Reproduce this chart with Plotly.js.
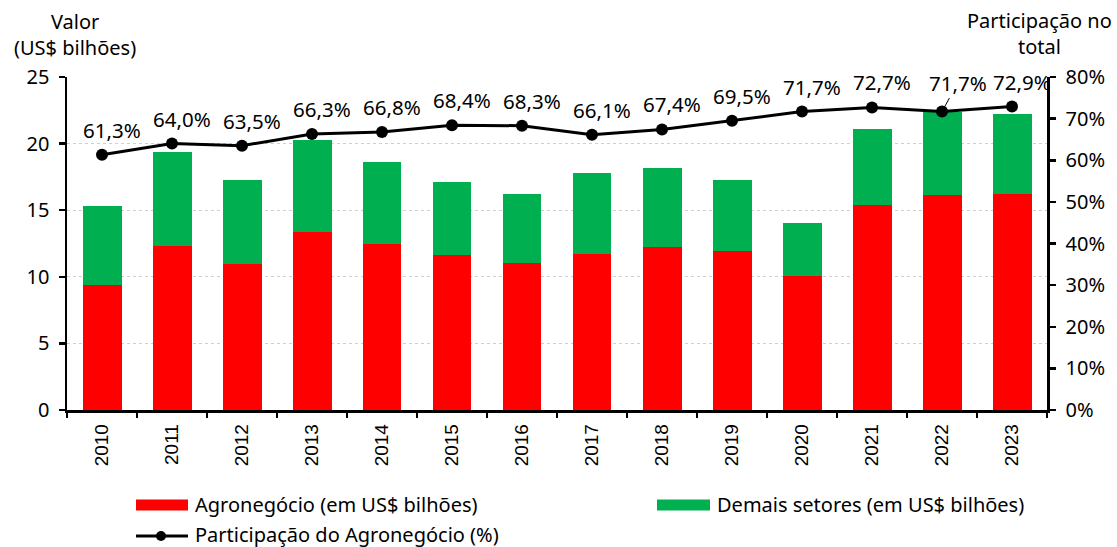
<!DOCTYPE html>
<html><head><meta charset="utf-8">
<script src="https://cdn.plot.ly/plotly-3.0.1.min.js"></script>
<style>html,body{margin:0;padding:0;background:#fff}#chart{width:1117px;height:547px}</style>
</head><body><div id="chart"></div>
<script>
const years = ['2010','2011','2012','2013','2014','2015','2016','2017','2018','2019','2020','2021','2022','2023'];
const agro = [9.35,12.35,10.98,13.4,12.43,11.65,11.0,11.7,12.25,11.95,10.03,15.36,16.15,16.2];
const demais = [5.95,7.0,6.32,6.85,6.2,5.45,5.18,6.08,5.95,5.3,4.0,5.77,6.23,6.05];
const participacao = [61.3,64.0,63.5,66.3,66.8,68.4,68.3,66.1,67.4,69.5,71.7,72.7,71.7,72.9];
const seriesNames = ['Agronegócio (em US$ bilhões)','Demais setores (em US$ bilhões)','Participação do Agronegócio (%)'];
const yTicks = [0,5,10,15,20,25];
const y2Ticks = [0,10,20,30,40,50,60,70,80];
const y2TickText = ['0%','10%','20%','30%','40%','50%','60%','70%','80%'];
const leftTitle = 'Valor<br>(US$ bilhões)';
const rightTitle = 'Participação no<br>total';

const RED = '#FF0000', GREEN = '#00B050', FONT = 'Noto Sans';
const W = 1117, H = 547, L = 67, R = 70, T = 77, B = 137;
const pw = W - L - R, ph = H - T - B;
const px = v => (v - L) / pw;
const py = v => (H - B - v) / ph;

const traces = [
  {type:'bar', name:seriesNames[0], x:years, y:agro, marker:{color:RED}, yaxis:'y', showlegend:false},
  {type:'bar', name:seriesNames[1], x:years, y:demais, marker:{color:GREEN}, yaxis:'y', showlegend:false},
  {type:'scatter', mode:'lines+markers', name:seriesNames[2], x:years, y:participacao, yaxis:'y2',
   line:{color:'#000', width:3}, marker:{color:'#000', size:12}, showlegend:false}
];

const fmt = v => v.toFixed(1).replace('.', ',') + '%';
const annotations = participacao.map((v,i) => {
  const a = {xref:'x', yref:'y2', x:i, y:v, text:fmt(v), font:{family:FONT, size:20.5, color:'#000'},
    xanchor:'center', yanchor:'middle'};
  if (i === 12) {
    Object.assign(a, {showarrow:true, axref:'pixel', ayref:'pixel', ax:16, ay:-29, arrowhead:0, arrowwidth:1, arrowcolor:'#000', standoff:5});
  } else {
    Object.assign(a, {showarrow:false, xshift:10, yshift:25});
  }
  return a;
});
annotations.push(
  {xref:'paper', yref:'paper', x:px(75), y:py(35), text:leftTitle, showarrow:false, xanchor:'center', yanchor:'middle', align:'center', font:{family:FONT, size:20, color:'#000'}},
  {xref:'paper', yref:'paper', x:px(1039), y:py(33), text:rightTitle, showarrow:false, xanchor:'center', yanchor:'middle', align:'center', font:{family:FONT, size:20, color:'#000'}},
  {xref:'paper', yref:'paper', x:px(193), y:py(505), text:seriesNames[0], showarrow:false, xanchor:'left', yanchor:'middle', font:{family:FONT, size:20, color:'#000'}},
  {xref:'paper', yref:'paper', x:px(715), y:py(505), text:seriesNames[1], showarrow:false, xanchor:'left', yanchor:'middle', font:{family:FONT, size:20, color:'#000'}},
  {xref:'paper', yref:'paper', x:px(193), y:py(534), text:seriesNames[2], showarrow:false, xanchor:'left', yanchor:'middle', font:{family:FONT, size:20, color:'#000'}}
);

const shapes = [
  {type:'rect', xref:'paper', yref:'paper', x0:px(136), x1:px(188), y0:py(499.5), y1:py(510.5), fillcolor:RED, line:{width:0}},
  {type:'rect', xref:'paper', yref:'paper', x0:px(657), x1:px(710), y0:py(499.5), y1:py(510.5), fillcolor:GREEN, line:{width:0}},
  {type:'line', xref:'paper', yref:'paper', x0:px(136), x1:px(188), y0:py(536), y1:py(536), line:{color:'#000', width:3}},
  {type:'circle', xref:'paper', yref:'paper', x0:px(156), x1:px(166), y0:py(531), y1:py(541), fillcolor:'#000', line:{width:0}}
];

const layout = {
  width:W, height:H, margin:{l:L, r:R, t:T, b:B},
  paper_bgcolor:'#fff', plot_bgcolor:'#fff',
  barmode:'stack', bargap:0.443,
  font:{family:FONT, size:20, color:'#000'},
  showlegend:false,
  xaxis:{type:'category', range:[-0.5,13.5], tickangle:-90, tickson:'boundaries',
    ticks:'outside', ticklen:5, tickwidth:2.5, tickcolor:'#000', ticklabelstandoff:4,
    showline:true, linecolor:'#000', linewidth:2.5, showgrid:false,
    tickfont:{family:'Liberation Sans', size:19, color:'#000'}},
  yaxis:{range:[0,25], tickvals:yTicks, ticks:'outside', ticklen:6, tickwidth:2.5, tickcolor:'#000', ticklabelstandoff:5,
    showline:true, linecolor:'#000', linewidth:2.5, showgrid:true, gridcolor:'#cfcfcf', gridwidth:1, griddash:'dot',
    zeroline:false, tickfont:{family:FONT, size:20, color:'#000'}},
  yaxis2:{overlaying:'y', side:'right', range:[0,80], tickvals:y2Ticks, ticktext:y2TickText,
    ticks:'outside', ticklen:6, tickwidth:2.5, tickcolor:'#000', ticklabelstandoff:6,
    showline:true, linecolor:'#000', linewidth:2.5, showgrid:false, zeroline:false,
    tickfont:{family:FONT, size:20, color:'#000'}},
  annotations:annotations, shapes:shapes
};

Plotly.newPlot('chart', traces, layout, {displayModeBar:false, staticPlot:true});
</script>
</body></html>
